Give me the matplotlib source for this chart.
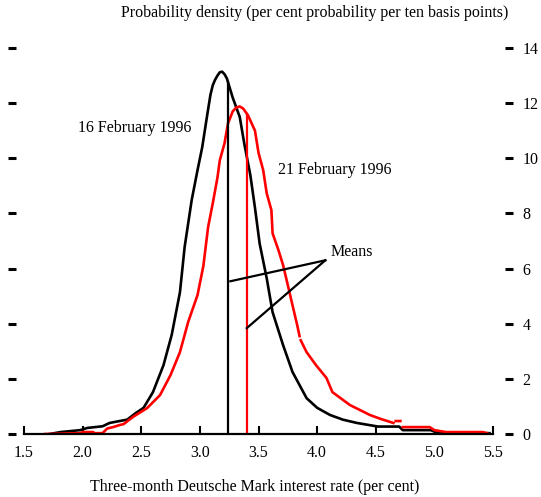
import numpy as np
import matplotlib
matplotlib.use("Agg")
import matplotlib.pyplot as plt

plt.rcParams["font.family"] = ["Liberation Serif", "DejaVu Serif"]
plt.rcParams["font.size"] = 11.5

# implied density, 16 February 1996
rate_16 = [1.72, 1.81, 1.98, 2.04, 2.17, 2.23, 2.29, 2.38, 2.45, 2.52, 2.60, 2.69,
           2.76, 2.83, 2.87, 2.93, 2.98, 3.02, 3.06, 3.09, 3.11, 3.13, 3.15, 3.17,
           3.19, 3.21, 3.23, 3.28, 3.34, 3.38, 3.43, 3.47, 3.51, 3.57, 3.62, 3.71,
           3.79, 3.91, 4.00, 4.11, 4.22, 4.34, 4.52, 4.70, 4.73, 4.97, 5.02, 5.47]
dens_16 = [0.00, 0.07, 0.14, 0.22, 0.28, 0.40, 0.45, 0.52, 0.75, 0.95, 1.52, 2.50,
           3.60, 5.14, 6.78, 8.48, 9.57, 10.40, 11.50, 12.30, 12.65, 12.85, 13.00, 13.12,
           13.14, 13.05, 12.90, 12.20, 11.50, 10.50, 9.40, 8.20, 6.90, 5.65, 4.42, 3.22,
           2.25, 1.30, 0.95, 0.69, 0.52, 0.40, 0.27, 0.27, 0.14, 0.14, 0.05, 0.03]

# implied density, 21 February 1996 (nan = break in the line)
rate_21 = [1.68, 1.98, 2.00, 2.09, 2.10, 2.17, 2.21, 2.26, 2.32, 2.35, 2.43, 2.55,
           2.66, 2.75, 2.83, 2.90, 2.98, 3.03, 3.07, 3.11, 3.15, 3.17, 3.21, 3.24,
           3.28, 3.31, 3.34, 3.37, 3.41, 3.47, 3.50, 3.54, 3.57, 3.61, 3.62, 3.67,
           3.71, 3.75, 3.79, 3.83, 3.85, np.nan, 3.86, 3.91, 3.99, 4.08, 4.13, 4.28,
           4.45, 4.54, 4.65, np.nan, 4.67, 4.71, np.nan, 4.73, 4.96, 5.00, 5.10, 5.41,
           5.45]
dens_21 = [0.00, 0.03, 0.07, 0.07, 0.03, 0.03, 0.20, 0.25, 0.33, 0.36, 0.62, 0.94,
           1.41, 2.14, 2.97, 4.06, 5.04, 6.10, 7.50, 8.37, 9.30, 9.93, 10.54, 11.27,
           11.70, 11.84, 11.88, 11.80, 11.56, 11.00, 10.20, 9.57, 8.73, 8.12, 7.28, 6.67,
           6.12, 5.40, 4.67, 3.95, 3.55, np.nan, 3.40, 2.97, 2.50, 2.03, 1.52, 1.05,
           0.69, 0.55, 0.40, np.nan, 0.47, 0.47, np.nan, 0.25, 0.25, 0.14, 0.07, 0.07,
           0.03]

mean_16 = 3.24
mean_21 = 3.40

x_ticks = [1.5, 2.0, 2.5, 3.0, 3.5, 4.0, 4.5, 5.0, 5.5]
y_ticks = [0, 2, 4, 6, 8, 10, 12, 14]

W, H = 541, 497
px = 117.25  # pixels per percentage point
fig = plt.figure(figsize=(W / 100, H / 100), dpi=100)
ax = fig.add_axes([8 / W, 63 / H, 505 / W, 386 / H])
ax.set_xlim(1.5 - 16 / px, 5.5 + 20 / px)
ax.set_ylim(0, 14)

lw = 1.9
ax.plot(rate_16, dens_16, color="black", lw=lw, solid_joinstyle="round")
ax.plot(rate_21, dens_21, color="#ff0000", lw=lw, solid_joinstyle="round")

# means, drawn up to the density at the mean
r16 = np.array(rate_16); d16 = np.array(dens_16)
ok = ~np.isnan(np.array(rate_21, dtype=float))
r21 = np.array(rate_21)[ok]; d21 = np.array(dens_21)[ok]
ax.plot([mean_16, mean_16], [0, np.interp(mean_16, r16, d16)], color="black", lw=1.6)
ax.plot([mean_21, mean_21], [0, np.interp(mean_21, r21, d21)], color="#ff0000", lw=1.6)

# "Means" pointer lines
tip = (4.07, 6.30)
ax.plot([tip[0], mean_16 + 0.02], [tip[1], 5.54], color="black", lw=1.6)
ax.plot([tip[0], mean_21], [tip[1], 3.84], color="black", lw=1.6)
ax.text(4.115, 6.6, "Means", ha="left", va="center")

ax.text(1.96, 11.1, "16 February 1996", ha="left", va="center")
ax.text(3.67, 9.57, "21 February 1996", ha="left", va="center")

for s in ("top", "left", "right"):
    ax.spines[s].set_visible(False)
ax.spines["bottom"].set_bounds(1.5, 5.5)
ax.spines["bottom"].set_linewidth(1.6)

ax.set_xticks(x_ticks)
ax.set_xticklabels([f"{v:.1f}" for v in x_ticks])
ax.tick_params(axis="x", direction="in", length=5.5, width=1.5, pad=8)
ax.xaxis.get_major_ticks()[7].tick1line.set_visible(False)

ax.set_yticks(y_ticks)
ax.tick_params(axis="y", direction="in", length=6, width=2.2, left=True, right=True,
               labelleft=False, labelright=True, pad=7)

fig.text(508 / W, 1 - 13 / H, "Probability density (per cent probability per ten basis points)",
         ha="right", va="center")
fig.text(255 / W, 1 - 487 / H, "Three-month Deutsche Mark interest rate (per cent)",
         ha="center", va="center")

fig.savefig("out.png", dpi=100)
